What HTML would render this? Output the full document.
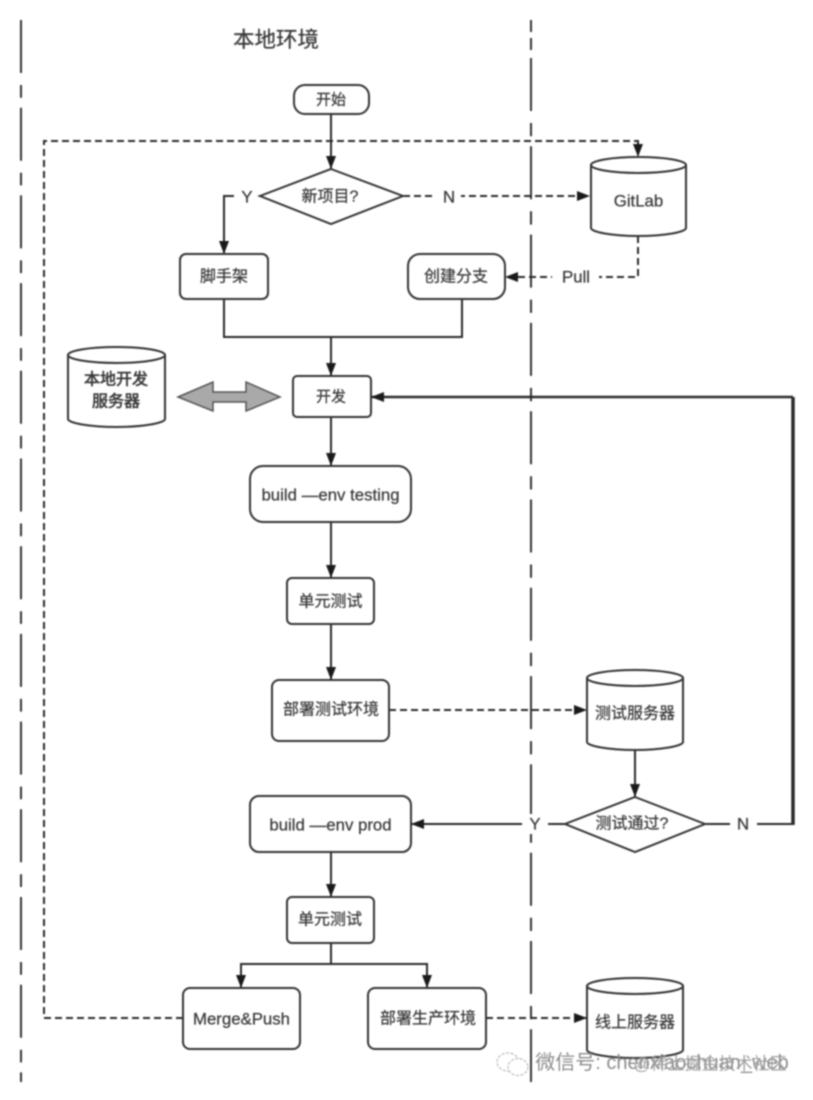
<!DOCTYPE html>
<html>
<head>
<meta charset="utf-8">
<style>
html,body{margin:0;padding:0;background:#fff;width:813px;height:1100px;overflow:hidden}
svg{display:block;filter:blur(.7px)}
text{font-family:"Liberation Sans","Noto Sans CJK SC",sans-serif;fill:#3a3a3a;text-anchor:middle;dominant-baseline:central;stroke:#3a3a3a;stroke-width:.25;transform:translateY(1px)}
.b{fill:#fff;stroke:#333;stroke-width:2}
.l{fill:none;stroke:#2a2a2a;stroke-width:2}
.d{fill:none;stroke:#2a2a2a;stroke-width:2;stroke-dasharray:7 4}
.sw{fill:none;stroke:#333;stroke-width:2}
.t{font-size:16px}
.e{font-size:16.800px}
</style>
</head>
<body>
<svg width="813" height="1100" viewBox="0 0 813 1100" xmlns="http://www.w3.org/2000/svg">
<defs>
<marker id="a" markerUnits="userSpaceOnUse" markerWidth="14" markerHeight="14" refX="13" refY="7" orient="auto"><path d="M0 2L13 7L0 12Z" fill="#1a1a1a"/></marker>
</defs>
<rect width="813" height="1100" fill="#fff"/>
<path class="sw" d="M21 20V1082" stroke-dasharray="53 12 12.700 10"/>
<path class="sw" d="M531 20V32M531 38V50"/>
<path class="sw" d="M531 58V1082" stroke-dasharray="53 12 13.300 10"/>
<text x="276" y="39" style="font-size:21.500px">本地环境</text>

<path class="d" d="M183 1018H44V141H638V157" marker-end="url(#a)"/>
<path class="l" d="M331 114V169" marker-end="url(#a)"/>
<path class="d" d="M403 196H590" marker-end="url(#a)"/>
<path class="l" d="M260 196H224V254" marker-end="url(#a)"/>
<path class="d" d="M638 236V277H505" marker-end="url(#a)"/>
<path class="l" d="M224 299V337H462V299"/>
<path class="l" d="M331 337V376" marker-end="url(#a)"/>
<path d="M793 825V397" fill="none" stroke="#2a2a2a" stroke-width="3.500"/>
<path class="l" d="M793 397H371" marker-end="url(#a)" style="stroke-width:2.500"/>
<path class="l" d="M331 417V466" marker-end="url(#a)"/>
<path class="l" d="M331 522V578" marker-end="url(#a)"/>
<path class="l" d="M331 624V680" marker-end="url(#a)"/>
<path class="d" d="M389 710H587" marker-end="url(#a)"/>
<path class="l" d="M635 750V797" marker-end="url(#a)"/>
<path class="l" d="M705 824H793"/>
<path class="l" d="M565 824H411" marker-end="url(#a)"/>
<path class="l" d="M331 852V897" marker-end="url(#a)"/>
<path class="l" d="M331 943V964"/>
<path class="l" d="M241 988V964H427V988"/>
<path d="M236 975L246 975L241 988Z M422 975L432 975L427 988Z" fill="#1a1a1a"/>
<path class="d" d="M486 1018H587" marker-end="url(#a)"/>

<!-- labels on connectors -->
<rect x="234" y="186" width="25" height="20" fill="#fff"/><text class="e" x="247" y="196">Y</text>
<rect x="432" y="186" width="29" height="20" fill="#fff"/><text class="e" x="449" y="196">N</text>
<rect x="552" y="267" width="47" height="20" fill="#fff"/><text class="e" x="576" y="276">Pull</text>
<rect x="522" y="814" width="26" height="20" fill="#fff"/><text class="e" x="535" y="823">Y</text>
<rect x="730" y="814" width="27" height="20" fill="#fff"/><text class="e" x="743" y="823">N</text>

<!-- nodes -->
<rect class="b" x="294" y="85" width="75" height="29" rx="11"/><text style="font-size:15px" x="331" y="99">开始</text>
<path class="b" d="M331 169L403 196L331 224L260 196Z"/><text class="t" x="330" y="196">新项目?</text>
<rect class="b" x="180" y="254" width="88" height="45" rx="6"/><text class="t" x="224" y="276">脚手架</text>
<rect class="b" x="408" y="254" width="97" height="45" rx="12"/><text class="t" x="456" y="276">创建分支</text>
<rect class="b" x="293" y="376" width="78" height="41" rx="4"/><text style="font-size:15px" x="331" y="396">开发</text>
<rect class="b" x="250" y="466" width="161" height="56" rx="13"/><text class="e" x="330.500" y="494">build —env testing</text>
<rect class="b" x="287" y="578" width="87" height="46" rx="5"/><text class="t" x="330.500" y="601">单元测试</text>
<rect class="b" x="272" y="680" width="117" height="61" rx="7"/><text class="t" x="331" y="709">部署测试环境</text>
<path class="b" d="M635 797L705 824L635 852L565 824Z"/><text class="t" x="632" y="823">测试通过?</text>
<rect class="b" x="250" y="796" width="161" height="56" rx="9"/><text class="e" x="330.500" y="824">build —env prod</text>
<rect class="b" x="287" y="897" width="87" height="46" rx="5"/><text class="t" x="330" y="919">单元测试</text>
<rect class="b" x="183" y="988" width="117" height="61" rx="7"/><text class="e" x="241.500" y="1018">Merge&amp;Push</text>
<rect class="b" x="368" y="988" width="118" height="61" rx="7"/><text class="t" x="428" y="1018">部署生产环境</text>

<!-- cylinders -->
<path class="b" d="M591 165V228C591 232 612 236 638.500 236C665 236 686 232 686 228V165Z"/><ellipse class="b" cx="638.500" cy="165" rx="47.500" ry="8"/><text class="e" x="638.500" y="200">GitLab</text>
<path class="b" d="M68 355V419C68 423 90 427 116 427C143 427 165 423 165 419V355Z"/><ellipse class="b" cx="116.500" cy="355" rx="48.500" ry="8"/>
<text x="116" y="379" style="font-size:16px;stroke-width:.6">本地开发</text><text x="116" y="401" style="font-size:16px;stroke-width:.6">服务器</text>
<path class="b" d="M587 678V742C587 746 609 750 635 750C661 750 683 746 683 742V678Z"/><ellipse class="b" cx="635" cy="678" rx="48" ry="8"/><text class="t" x="635" y="713">测试服务器</text>
<path class="b" d="M587 986V1050C587 1054 609 1058 635 1058C661 1058 683 1054 683 1050V986Z"/><ellipse class="b" cx="635" cy="986" rx="48" ry="8"/><text class="t" x="635" y="1022">线上服务器</text>

<!-- double arrow -->
<path d="M178 397L213 382V392H246V382L280 397L246 411V402H213V411Z" fill="#a9a9a9" stroke="#555" stroke-width="1.500"/>

<!-- watermark -->
<g fill="#fff" stroke="#bbb" stroke-width="1.200" stroke-dasharray="3 1.500">
<ellipse cx="508" cy="1062" rx="11" ry="9"/>
<ellipse cx="518" cy="1067" rx="10" ry="8.500"/>
</g>
<text x="662" y="1062" style="font-size:20px;fill:#8c8c8c;stroke:none">微信号: chenxiaochuan_web</text>
<text x="710" y="1063" style="font-size:17px;fill:#a0a0a0;stroke:none">@稀土掘金技术社区</text>
</svg>
</body>
</html>
